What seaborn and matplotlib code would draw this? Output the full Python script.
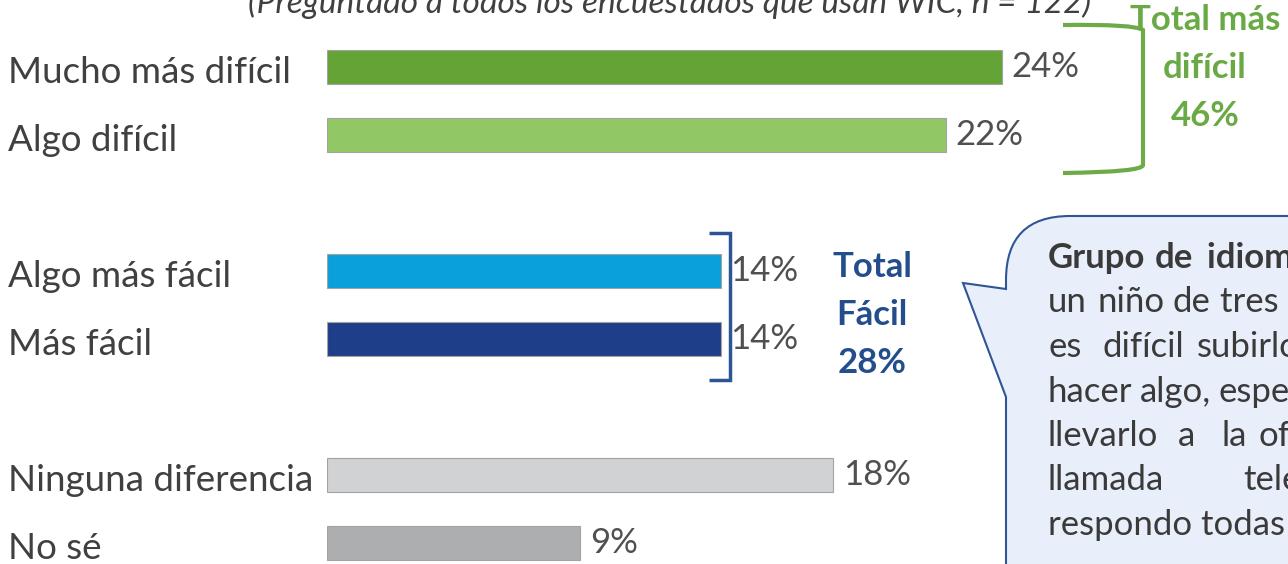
import matplotlib.pyplot as plt
import matplotlib.transforms as mtransforms
from matplotlib.path import Path
from matplotlib.patches import PathPatch
import seaborn as sns

# Dados
categorias = ["Mucho más difícil", "Algo difícil", "Algo más fácil",
              "Más fácil", "Ninguna diferencia", "No sé"]
valores = [24, 22, 14, 14, 18, 9]
cores = ["#64A437", "#92C864", "#0AA0DC", "#1F3E8A", "#D1D2D4", "#ADAEAF"]
# espaços vazios entre os grupos
ordem = ["Mucho más difícil", "Algo difícil", "", "Algo más fácil",
         "Más fácil", " ", "Ninguna diferencia", "No sé"]

titulo = "(Preguntado a todos los encuestados que usan WIC, n = 122)"
total_dificil = ["Total más", "difícil", "46%"]
total_facil = ["Total", "Fácil", "28%"]

# citação do grupo (linhas justificadas: palavra, x em pixels)
cita = [
    [("Grupo", 1048), ("de", 1155), ("idioma español:", 1207)],
    [("un", 1048), ("niño", 1098), ("de", 1172), ("tres años", 1220)],
    [("es", 1048), ("difícil", 1102), ("subirlos", 1197)],
    [("hacer", 1048), ("algo,", 1140), ("especialmente", 1219)],
    [("llevarlo", 1048), ("a", 1178), ("la", 1222), ("oficina", 1258)],
    [("llamada", 1048), ("telefónica", 1243)],
    [("respondo todas", 1048)],
]

W, H = 1288, 564
sns.set_style("white")
plt.rcParams['font.family'] = ['Lato', 'DejaVu Sans']

fig = plt.figure(figsize=(W / 100, H / 100), dpi=100)
ax = fig.add_axes([327 / W, 0, (W - 327) / W, 1])

sns.barplot(x=valores, y=categorias, order=ordem, hue=categorias,
            palette=dict(zip(categorias, cores)), width=0.5, saturation=1,
            edgecolor="#A3A3A3", linewidth=0.8, legend=False, ax=ax)

for cont in ax.containers:
    ax.bar_label(cont, fmt="%d%%", padding=7, fontsize=25, color="#505050")

ax.set_xlim(0, (W - 327) / 28.125)
ax.set_ylim((H - 67) / 68, -67 / 68)
ax.set_xticks([])
ax.set_yticks([])
ax.set_xlabel("")
ax.set_ylabel("")
sns.despine(ax=ax, left=True, bottom=True)

# rótulos das categorias alinhados à esquerda
trans = mtransforms.blended_transform_factory(fig.transFigure, ax.transData)
for cat in categorias:
    ax.text(8 / W, ordem.index(cat) + 0.04, cat, transform=trans,
            ha="left", va="center_baseline", fontsize=26.5, color="#404040")

# coordenadas em pixels da figura
px = mtransforms.Affine2D().scale(1 / W, -1 / H).translate(0, 1) + fig.transFigure

fig.text(670 / W, 1 - 13 / H, titulo, ha="center", va="baseline",
         fontsize=24, style="italic", color="#404040")

# chave verde
chave_v = Path([(1063, 25), (1135, 24), (1143, 30), (1143, 165),
                (1143, 172), (1063, 173)],
               [Path.MOVETO, Path.CURVE3, Path.CURVE3, Path.LINETO,
                Path.CURVE3, Path.CURVE3])
fig.add_artist(PathPatch(chave_v, transform=px, fill=False,
                         edgecolor="#6CAB45", lw=3))
for i, t in enumerate(total_dificil):
    fig.text(1205 / W, 1 - (20 + 48 * i) / H, t, ha="center", va="center",
             fontsize=25, fontweight="bold", color="#6AAA45")

# chave azul
chave_a = Path([(709, 233), (730, 233), (730, 380), (709, 380)],
               [Path.MOVETO, Path.LINETO, Path.LINETO, Path.LINETO])
fig.add_artist(PathPatch(chave_a, transform=px, fill=False,
                         edgecolor="#2C5595", lw=2.5))
for i, t in enumerate(total_facil):
    fig.text(872 / W, 1 - (267 + 48 * i) / H, t, ha="center", va="center",
             fontsize=25, fontweight="bold", color="#244D8C")

# balão de citação
balao = Path([(1006, 289), (963, 283), (1006, 397), (1006, 620),
              (1320, 620), (1320, 216), (1070, 216), (1006, 216),
              (1006, 280), (1006, 289)],
             [Path.MOVETO, Path.LINETO, Path.LINETO, Path.LINETO,
              Path.LINETO, Path.LINETO, Path.LINETO, Path.CURVE3,
              Path.CURVE3, Path.CLOSEPOLY])
fig.add_artist(PathPatch(balao, transform=px, facecolor="#E9EFFA",
                         edgecolor="#2F5597", lw=1.5))
for i, linha in enumerate(cita):
    for j, (palavra, x) in enumerate(linha):
        fig.text(x / W, 1 - (268 + 44.5 * i) / H, palavra, ha="left",
                 va="baseline", fontsize=25, color="#3A3A3A",
                 fontweight="bold" if i == 0 else "normal")

fig.savefig("out.png", dpi=100)
